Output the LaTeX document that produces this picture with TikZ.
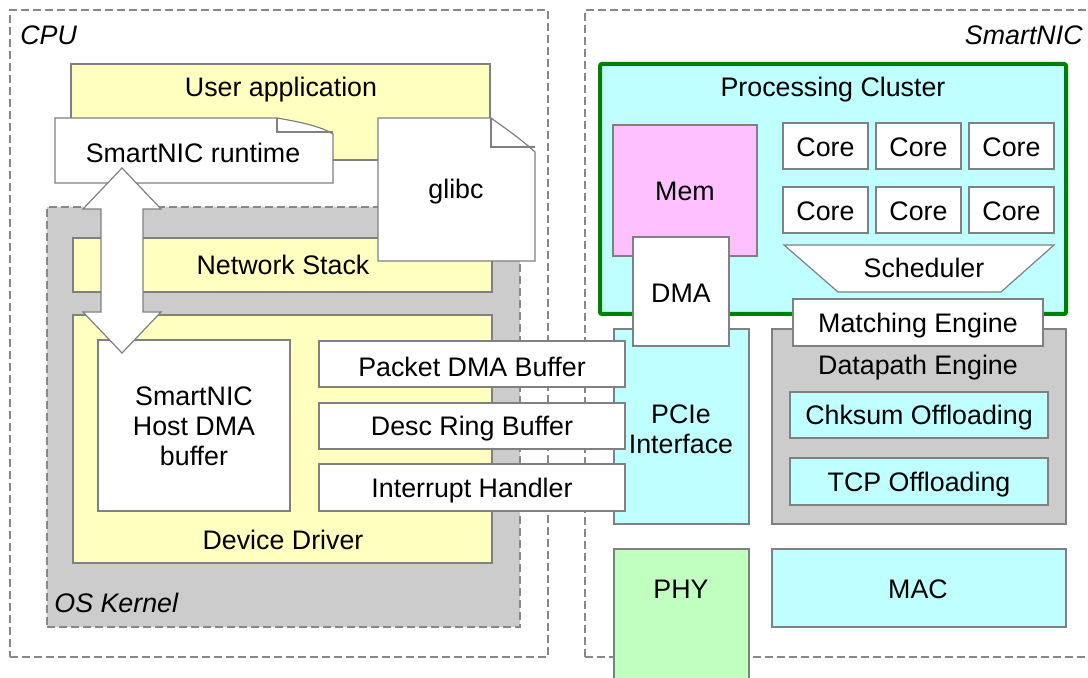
\documentclass[tikz,border=0pt]{standalone}
\usepackage{fontspec}
\setmainfont{Liberation Sans}
\usetikzlibrary{fit,calc}
\definecolor{edge}{RGB}{128,128,128}
\definecolor{dashc}{RGB}{136,136,136}
\definecolor{yel}{RGB}{255,255,192}
\definecolor{gry}{RGB}{204,204,204}
\definecolor{cya}{RGB}{192,255,255}
\definecolor{pnk}{RGB}{255,192,255}
\definecolor{grn}{RGB}{192,255,192}
\definecolor{dgreen}{RGB}{0,128,0}
\tikzset{
  base/.style={draw=edge, line width=0.6pt, inner sep=0pt},
  wbox/.style={base, fill=white},
  ybox/.style={base, fill=yel},
  cbox/.style={base, fill=cya},
  gbox/.style={base, fill=gry},
  lbl/.style={inner sep=0pt, anchor=center, align=center},
  ctr/.style={lbl, yshift=-1.4pt},
  dashbox/.style={draw=dashc, line width=0.6pt, dash pattern=on 4pt off 2pt, inner sep=0pt},
}
\begin{document}
\begin{tikzpicture}[x=0.5pt,y=-0.5pt, font=\fontsize{13.4}{15}\selectfont]
\useasboundingbox (0,0) rectangle (1088,678);
% outer containers
\node[dashbox, fit={(10,10)(548,657)}] (cpu) {};
\node[dashbox, fit={(585,10)(1100,657)}] (nic) {};
\node[lbl, anchor=west, font=\fontsize{13.4}{15}\selectfont\itshape] (cpul) at (20,35) {CPU};
\node[lbl, anchor=east, font=\fontsize{13.4}{15}\selectfont\itshape] (nicl) at (1083,35) {SmartNIC};
% CPU side
\node[ybox, fit={(71,64)(490,160)}] (ua) {};
\node[lbl] (ual) at (281,90) {User application};
\node[base, fill=gry, dashbox, fit={(47,207)(520,627)}] (os) {};
\node[lbl, anchor=west, font=\fontsize{13.4}{15}\selectfont\itshape] (osl) at (54,603) {OS Kernel};
\node[ybox, fit={(73,238)(492,292)}] (ns) {};
\node[lbl] (nsl) at (283,265) {Network Stack};
\node[ybox, fit={(73,315)(492,563)}] (dd) {};
\node[lbl] (ddl) at (283,540) {Device Driver};
\node[wbox, fit={(98,340)(290,511)}] (hdb) {};
\node[lbl] (hdbl) at (194,426) {SmartNIC\\Host DMA\\buffer};
% SmartNIC side
\node[draw=dgreen, line width=2pt, fill=cya, rounded corners=1pt, inner sep=0pt, fit={(600,64)(1066,314)}] (pc) {};
\node[lbl] (pcl) at (833,90) {Processing Cluster};
\node[base, fill=pnk, fit={(613,125)(757,256)}] (mem) {};
\node[lbl] (meml) at (685,191) {Mem};
\node[wbox, fit={(783,123)(868,169)}] (c1) {};
\node[wbox, fit={(876,123)(961,169)}] (c2) {};
\node[wbox, fit={(969,123)(1054,169)}] (c3) {};
\node[wbox, fit={(783,187)(868,233)}] (c4) {};
\node[wbox, fit={(876,187)(961,233)}] (c5) {};
\node[wbox, fit={(969,187)(1054,233)}] (c6) {};
\foreach \n in {c1,c2,c3,c4,c5,c6} \node[lbl, yshift=-0.5pt] (\n l) at (\n) {Core};
\draw[base, fill=white] (784,245) -- (1054,245) -- (1001,292) -- (838,292) -- cycle;
\node[lbl] (schl) at (924,268) {Scheduler};
\node[cbox, fit={(614,329)(749,524)}] (pcie) {};
\node[lbl] (pciel) at (681,429) {PCIe\\Interface};
\node[gbox, fit={(772,329)(1066,524)}] (dp) {};
\node[lbl] (dpl) at (918,368) {Datapath Engine};
\node[cbox, fit={(790,392)(1048,438)}] (ck) {};
\node[ctr] (ckl) at (ck) {Chksum Offloading};
\node[cbox, fit={(790,458)(1048,505)}] (tcp) {};
\node[ctr] (tcpl) at (tcp) {TCP Offloading};
\node[base, fill=grn, fit={(614,549)(749,700)}] (phy) {};
\node[lbl] (phyl) at (681,589) {PHY};
\node[cbox, fit={(772,549)(1066,627)}] (mac) {};
\node[lbl] (macl) at (918,589) {MAC};
\node[wbox, fit={(633,237)(729,346)}] (dma) {};
\node[lbl] (dmal) at (681,293) {DMA};
\node[wbox, fit={(793,299)(1043,346)}] (me) {};
\node[ctr] (mel) at (me) {Matching Engine};
% buffers
\node[wbox, fit={(319,341)(625,387)}] (pdb) {};
\node[ctr] (pdbl) at (pdb) {Packet DMA Buffer};
\node[wbox, fit={(319,403)(625,449)}] (drb) {};
\node[ctr] (drbl) at (drb) {Desc Ring Buffer};
\node[wbox, fit={(319,464)(625,511)}] (ih) {};
\node[ctr] (ihl) at (ih) {Interrupt Handler};
% documents
\draw[base, fill=white] (55,118) -- (277,118) .. controls (300,122) and (320,126) .. (333,134) -- (333,183) -- (55,183) -- cycle;
\draw[base] (277,118) -- (277,132) -- (333,132);
\node[lbl] (rtl) at (193,153) {SmartNIC runtime};
\draw[base, fill=white] (378,118) -- (491,118) .. controls (505,128) and (522,140) .. (535,152) -- (535,261) -- (378,261) -- cycle;
\draw[base] (491,118) -- (491,147) -- (535,147);
\node[lbl] (glbl) at (456,192) {glibc};
% double block arrow
\coordinate (arr) at (122,260);
\draw[base, fill=white] ($(arr)+(0,-92)$) -- ($(arr)+(39,-51)$) -- ($(arr)+(21,-51)$) -- ($(arr)+(21,52)$) -- ($(arr)+(39,52)$) -- ($(arr)+(0,93)$) -- ($(arr)+(-39,52)$) -- ($(arr)+(-21,52)$) -- ($(arr)+(-21,-51)$) -- ($(arr)+(-39,-51)$) -- cycle;
\end{tikzpicture}
\end{document}
